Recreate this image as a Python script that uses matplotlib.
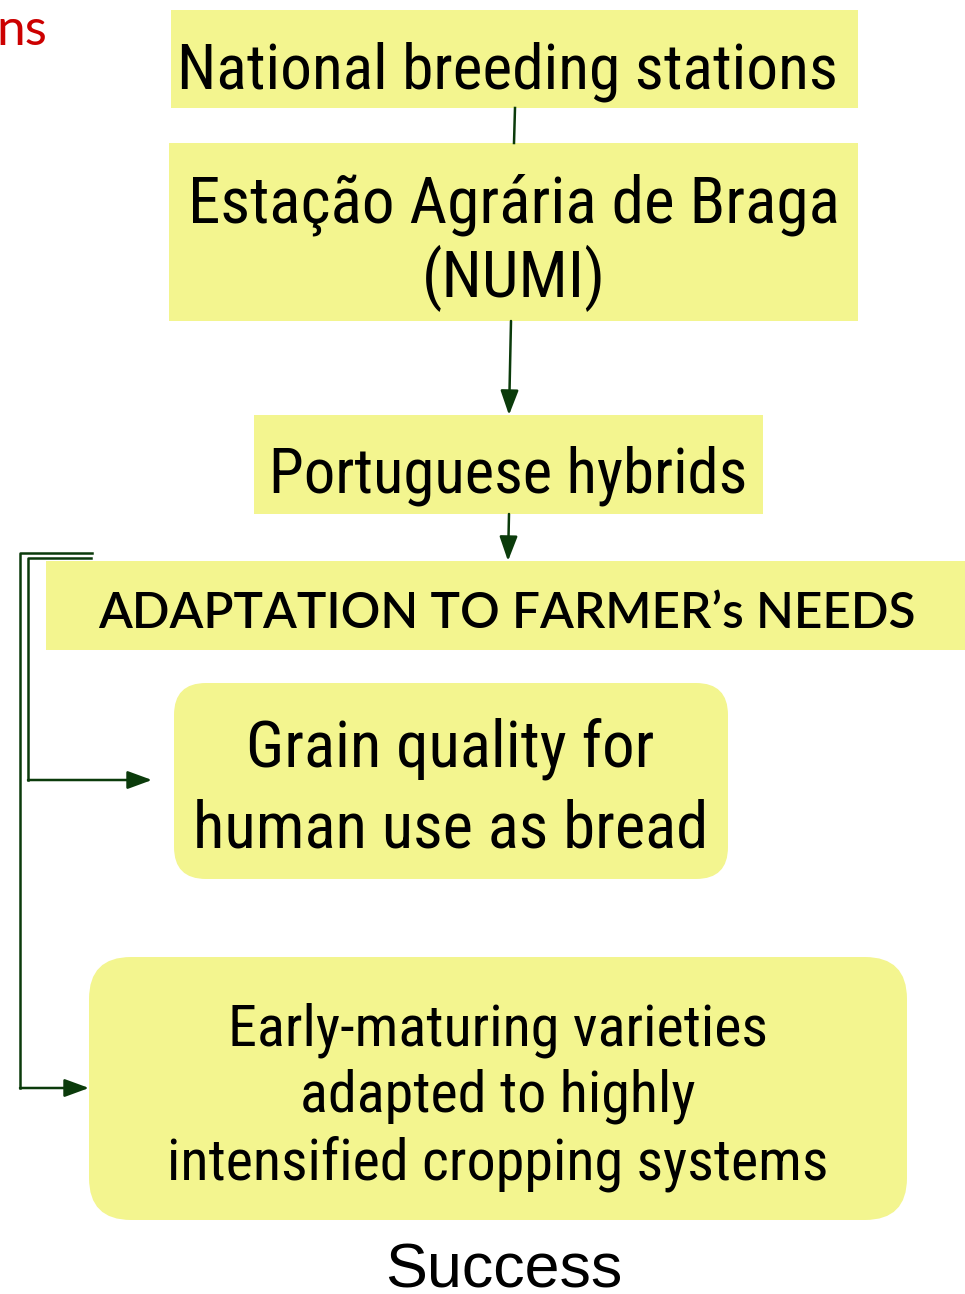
import matplotlib.pyplot as plt
from matplotlib.patches import FancyBboxPatch, Rectangle
import warnings

warnings.filterwarnings('ignore')

# chart content
box_labels = ['National breeding stations',
              'Estação Agrária de Braga\n(NUMI)',
              'Portuguese hybrids']
needs_label = "ADAPTATION TO FARMER\u2019s NEEDS"
outcome_labels = ['Grain quality for\nhuman use as bread',
                  'Early-maturing varieties\nadapted to highly\nintensified cropping systems']
footer = 'Success'
corner = 'ns'

W, H = 965, 1294
yellow = '#F3F58F'
green = '#0B3B0B'
narrow = ['Roboto Condensed', 'Liberation Sans Narrow', 'Roboto', 'DejaVu Sans']
calibri = ['Lato', 'DejaVu Sans']
arial = ['Liberation Sans', 'DejaVu Sans']

fig = plt.figure(figsize=(W / 100, H / 100), dpi=100)
ax = fig.add_axes([0, 0, 1, 1])
ax.set_xlim(0, W)
ax.set_ylim(H, 0)
ax.axis('off')
renderer = fig.canvas.get_renderer()


def block(label, xc, baselines, width, family, **kw):
    # one text per line on given baselines, font scaled so widest line spans width
    ts = [ax.text(xc, yb, line, ha='center', va='baseline', fontsize=40,
                  family=family, **kw)
          for line, yb in zip(label.split('\n'), baselines)]
    w = max(t.get_window_extent(renderer=renderer).width for t in ts)
    for t in ts:
        t.set_fontsize(40 * width / w)


# square boxes and text placement (condensed face is a little wider, so +5%)
rects = [(171, 10, 858, 108), (169, 143, 858, 321), (254, 415, 763, 514)]
rect_text = [(507, [88], 660), (513.5, [222, 297], 652), (508.5, [493], 478)]
for (x0, y0, x1, y1), (xc, bl, tw), lab in zip(rects, rect_text, box_labels):
    ax.add_patch(Rectangle((x0, y0), x1 - x0, y1 - y0, color=yellow, lw=0))
    block(lab, xc, bl, tw, narrow)

ax.add_patch(Rectangle((46, 561), W - 46, 89, color=yellow, lw=0))
block(needs_label, 506.5, [628], 817, calibri, fontweight='semibold')

# rounded boxes
rounds = [(174, 683, 728, 879, 32), (89, 957, 907, 1220, 42)]
round_text = [(450.5, [767, 847], 515), (498, [1045, 1112, 1180], 662)]
for (x0, y0, x1, y1, r), (xc, bl, tw), lab in zip(rounds, round_text, outcome_labels):
    ax.add_patch(FancyBboxPatch((x0 + r, y0 + r), x1 - x0 - 2 * r, y1 - y0 - 2 * r,
                                boxstyle=f'round,pad={r}', color=yellow, lw=0))
    block(lab, xc, bl, tw, narrow)

block(footer, 503.5, [1287], 237, arial)
ax.text(-4, 45, corner, ha='left', va='baseline', fontsize=37, color='#CC0000',
        family=calibri)

# connectors
kw = dict(color=green, lw=1.8)
ax.plot([515, 514], [108, 143], **kw)
akw = dict(arrowstyle='-|>,head_length=1.5,head_width=0.55', color=green, lw=1.8,
           shrinkA=0, shrinkB=0)
ax.annotate('', xy=(509, 415), xytext=(511, 321), arrowprops=akw)
ax.annotate('', xy=(508, 561), xytext=(509, 514), arrowprops=akw)

ax.plot([92, 20, 20], [553, 553, 1088], **kw)
ax.annotate('', xy=(89, 1088), xytext=(20, 1088), arrowprops=akw)
ax.plot([91, 28, 28], [558, 558, 780], **kw)
ax.annotate('', xy=(152, 780), xytext=(28, 780), arrowprops=akw)

fig.savefig('out.png', dpi=100)
